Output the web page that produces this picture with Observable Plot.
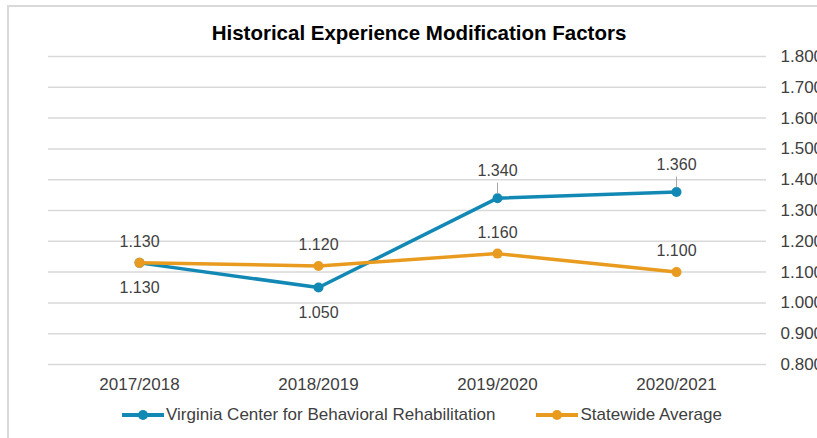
<!DOCTYPE html>
<html>
<head>
<meta charset="utf-8">
<script src="https://cdn.jsdelivr.net/npm/d3@7"></script>
<script src="https://cdn.jsdelivr.net/npm/@observablehq/plot@0.6"></script>
<style>
  html, body { margin: 0; padding: 0; background: #fff; }
  body { font-family: Arial, "Liberation Sans", sans-serif; }
  #wrap { position: relative; width: 817px; height: 438px; overflow: hidden; }
  #frame { position: absolute; left: 7px; top: 5px; width: 900px; height: 600px; border: 2px solid #d9d9d9; box-sizing: border-box; }
  #title { position: absolute; left: 0; top: 20px; width: 838px; text-align: center; font-weight: bold; font-size: 20.5px; line-height: 26px; color: #000; }
  #chart { position: absolute; left: 0; top: 46px; }
  #legend { position: absolute; left: 122px; top: 404px; font-size: 17px; line-height: 22px; color: #404040; white-space: nowrap; }
  .item { display: inline-flex; align-items: center; margin-right: 41px; }
  .sw { position: relative; width: 42px; height: 12px; margin-right: 2px; }
  .sw .ln { position: absolute; left: 0; right: 0; top: 4px; height: 4px; }
  .sw .dt { position: absolute; left: 16px; top: 1px; width: 10px; height: 10px; border-radius: 50%; }
</style>
</head>
<body>
<div id="wrap">
  <div id="frame"></div>
  <div id="title"></div>
  <div id="chart"></div>
  <div id="legend"></div>
</div>
<script>
const chartTitle = "Historical Experience Modification Factors";
const categories = ["2017/2018", "2018/2019", "2019/2020", "2020/2021"];
const seriesNames = ["Virginia Center for Behavioral Rehabilitation", "Statewide Average"];
const vcbrValues = [1.130, 1.050, 1.340, 1.360];
const statewideValues = [1.130, 1.120, 1.160, 1.100];
const yTicks = [0.8, 0.9, 1.0, 1.1, 1.2, 1.3, 1.4, 1.5, 1.6, 1.7, 1.8];
const colors = ["#1289B5", "#E89B1E"];

const vcbr = categories.map((c, i) => ({cat: c, value: vcbrValues[i], series: seriesNames[0]}));
const state = categories.map((c, i) => ({cat: c, value: statewideValues[i], series: seriesNames[1]}));
const fmt = d3.format(".3f");

document.getElementById("title").textContent = chartTitle;

const plot = Plot.plot({
  width: 817,
  height: 350,
  marginLeft: 48,
  marginRight: 51,
  marginTop: 10,
  marginBottom: 32,
  style: {fontFamily: "Arial, 'Liberation Sans', sans-serif", fontSize: "16px", color: "#404040", background: "transparent", overflow: "visible"},
  x: {type: "point", domain: categories, padding: 0.5, label: null},
  y: {domain: [0.8, 1.8], label: null},
  marks: [
    Plot.gridY(yTicks, {stroke: "#d9d9d9", strokeOpacity: 1, strokeWidth: 1.5}),
    Plot.axisY(yTicks, {anchor: "right", tickSize: 0, tickPadding: 14, tickFormat: fmt, fontSize: 17, label: null}),
    Plot.axisX({tickSize: 0, tickPadding: 13, fontSize: 17, label: null}),
    Plot.line(vcbr, {x: "cat", y: "value", stroke: colors[0], strokeWidth: 3.5}),
    Plot.dot(vcbr, {x: "cat", y: "value", fill: colors[0], r: 5}),
    Plot.line(state, {x: "cat", y: "value", stroke: colors[1], strokeWidth: 3.5}),
    Plot.dot(state, {x: "cat", y: "value", fill: colors[1], r: 5}),
    // leader lines for the upper VCBR labels
    Plot.ruleX(vcbr.filter((d, i) => i >= 2), {x: "cat", y1: "value", y2: "value", insetTop: -15, insetBottom: 4, stroke: "#a6a6a6", strokeWidth: 1}),
    Plot.text(vcbr.filter((d, i) => i < 2), {x: "cat", y: "value", text: d => fmt(d.value), dy: 25, fill: "#404040", fontSize: 16}),
    Plot.text(vcbr.filter((d, i) => i >= 2), {x: "cat", y: "value", text: d => fmt(d.value), dy: -27, fill: "#404040", fontSize: 16}),
    Plot.text(state, {x: "cat", y: "value", text: d => fmt(d.value), dy: -21, fill: "#404040", fontSize: 16})
  ]
});
document.getElementById("chart").appendChild(plot);

const legend = document.getElementById("legend");
seriesNames.forEach((name, i) => {
  const item = document.createElement("span");
  item.className = "item";
  item.innerHTML = `<span class="sw"><span class="ln" style="background:${colors[i]}"></span><span class="dt" style="background:${colors[i]}"></span></span><span></span>`;
  item.lastChild.textContent = name;
  legend.appendChild(item);
});
</script>
</body>
</html>
